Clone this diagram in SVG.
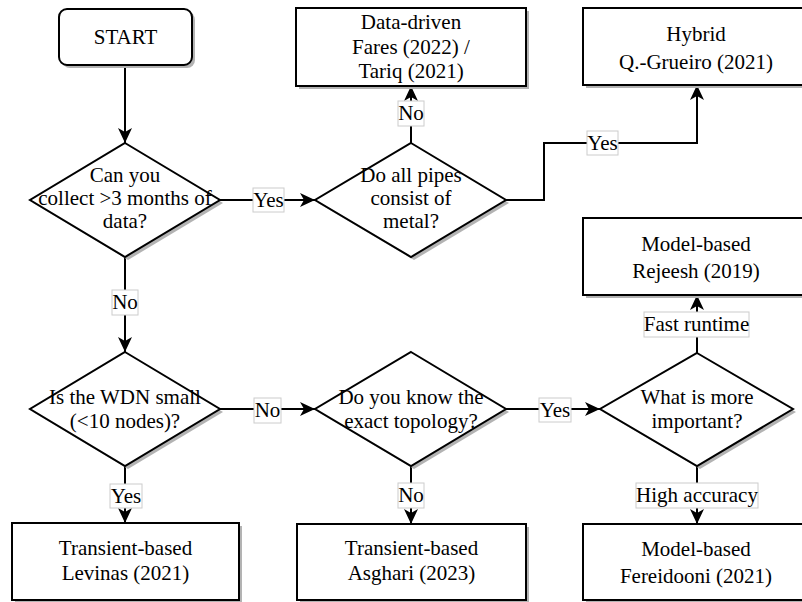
<svg xmlns="http://www.w3.org/2000/svg" width="802" height="602" viewBox="0 0 802 602">
<defs>
<style>
.box{fill:#fff;stroke:#000;stroke-width:2}
.sh{fill:#b3b3b3;stroke:none}
.ln{fill:none;stroke:#000;stroke-width:2}
.lb{fill:#fff;stroke:#cccccc;stroke-width:1}
</style>
<marker id="arr" markerUnits="userSpaceOnUse" markerWidth="18" markerHeight="16" refX="15" refY="7.5" orient="auto" viewBox="0 0 18 16">
<path d="M0,0.5 L15,7.5 L0,14.5 L4,7.5 Z" fill="#000"/>
</marker>
</defs>
<rect width="802" height="602" fill="#fff"/>
<g font-family="'Liberation Serif', 'Times New Roman', serif" font-size="21" text-anchor="middle" fill="#000">

<g id="connectors">
<path class="ln" d="M125,65 V143" marker-end="url(#arr)"/>
<path class="ln" d="M220,200 H315" marker-end="url(#arr)"/>
<path class="ln" d="M125,257 V352" marker-end="url(#arr)"/>
<path class="ln" d="M411,143 V86" marker-end="url(#arr)"/>
<path class="ln" d="M506,200 H544 V143 H697 V85" marker-end="url(#arr)"/>
<path class="ln" d="M220,409 H315" marker-end="url(#arr)"/>
<path class="ln" d="M125,466 V523" marker-end="url(#arr)"/>
<path class="ln" d="M411,466 V524" marker-end="url(#arr)"/>
<path class="ln" d="M506,409 H600" marker-end="url(#arr)"/>
<path class="ln" d="M697,353 V295" marker-end="url(#arr)"/>
<path class="ln" d="M697,466 V524" marker-end="url(#arr)"/>
<g id="labels">
<rect class="lb" x="253" y="188" width="31" height="24"/><text x="268.5" y="207">Yes</text>
<rect class="lb" x="398" y="101" width="26" height="25"/><text x="411" y="120">No</text>
<rect class="lb" x="587" y="131" width="31" height="24"/><text x="602.5" y="150">Yes</text>
<rect class="lb" x="112" y="290" width="26" height="25"/><text x="125" y="309">No</text>
<rect class="lb" x="254" y="398" width="27" height="25"/><text x="267.5" y="417">No</text>
<rect class="lb" x="539" y="398" width="32" height="24"/><text x="555" y="417">Yes</text>
<rect class="lb" x="110" y="484" width="32" height="24"/><text x="126" y="503">Yes</text>
<rect class="lb" x="398" y="483" width="26" height="25"/><text x="411" y="502">No</text>
<rect class="lb" x="644" y="312" width="105" height="25"/><text x="696.5" y="331">Fast runtime</text>
<rect class="lb" x="636" y="483" width="122" height="25"/><text x="697" y="502">High accuracy</text>
</g>
</g>

<g id="start">
<rect class="sh" x="62" y="12" width="133" height="56" rx="8"/>
<rect class="box" x="59" y="9" width="133" height="56" rx="8"/>
<text x="125.5" y="44">START</text>
</g>

<g id="q-data">
<polygon class="sh" points="128,146 223,203 128,260 33,203"/>
<polygon class="box" points="125,143 220,200 125,257 30,200"/>
<text x="125" y="182">Can you</text>
<text x="125" y="205">collect &gt;3 months of</text>
<text x="125" y="228">data?</text>
</g>

<g id="q-metal">
<polygon class="sh" points="414,146 509,203 414,260 318,203"/>
<polygon class="box" points="411,143 506,200 411,257 315,200"/>
<text x="411" y="182">Do all pipes</text>
<text x="411" y="205">consist of</text>
<text x="411" y="228">metal?</text>
</g>

<g id="data-driven">
<rect class="sh" x="299" y="11" width="230" height="78"/>
<rect class="box" x="296" y="8" width="230" height="78"/>
<text x="411" y="29">Data-driven</text>
<text x="411" y="54">Fares (2022) /</text>
<text x="411" y="78">Tariq (2021)</text>
</g>

<g id="hybrid">
<rect class="sh" x="586" y="11" width="228" height="77"/>
<rect class="box" x="583" y="8" width="228" height="77"/>
<text x="696" y="41">Hybrid</text>
<text x="696" y="69">Q.-Grueiro (2021)</text>
</g>

<g id="rejeesh">
<rect class="sh" x="586" y="221" width="228" height="77"/>
<rect class="box" x="583" y="218" width="228" height="77"/>
<text x="696" y="251">Model-based</text>
<text x="696" y="278">Rejeesh (2019)</text>
</g>

<g id="q-small">
<polygon class="sh" points="128,355 223,412 128,469 33,412"/>
<polygon class="box" points="125,352 220,409 125,466 30,409"/>
<text x="125" y="404">Is the WDN small</text>
<text x="125" y="428">(&lt;10 nodes)?</text>
</g>

<g id="q-topology">
<polygon class="sh" points="414,355 509,412 414,469 318,412"/>
<polygon class="box" points="411,352 506,409 411,466 315,409"/>
<text x="411" y="404">Do you know the</text>
<text x="411" y="428">exact topology?</text>
</g>

<g id="q-important">
<polygon class="sh" points="700,356 796,412 700,469 603,412"/>
<polygon class="box" points="697,353 793,409 697,466 600,409"/>
<text x="697" y="404">What is more</text>
<text x="697" y="428">important?</text>
</g>

<g id="levinas">
<rect class="sh" x="15" y="526" width="227" height="77"/>
<rect class="box" x="12" y="523" width="227" height="77"/>
<text x="125.5" y="555">Transient-based</text>
<text x="125.5" y="580">Levinas (2021)</text>
</g>

<g id="asghari">
<rect class="sh" x="300" y="527" width="229" height="76"/>
<rect class="box" x="297" y="524" width="229" height="76"/>
<text x="411.5" y="555">Transient-based</text>
<text x="411.5" y="580">Asghari (2023)</text>
</g>

<g id="fereidooni">
<rect class="sh" x="586" y="527" width="228" height="76"/>
<rect class="box" x="583" y="524" width="228" height="76"/>
<text x="696" y="556">Model-based</text>
<text x="696" y="583">Fereidooni (2021)</text>
</g>
</g>
</svg>
